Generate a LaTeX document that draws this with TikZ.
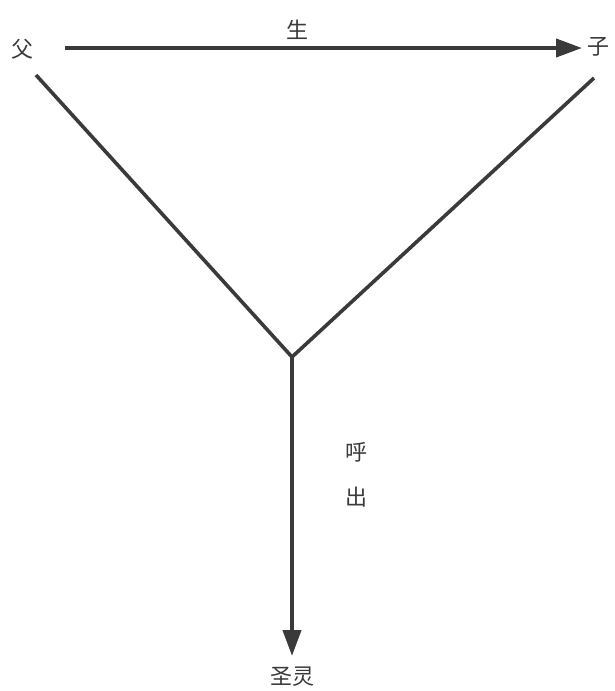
\documentclass[tikz,border=0pt]{standalone}
\usepackage{fontspec}
\setmainfont{Noto Sans CJK SC}
\usetikzlibrary{arrows.meta}
\definecolor{ink}{HTML}{3A3A3A}
\tikzset{
  lbl/.style={font=\fontsize{22}{24}\selectfont, text=ink, inner sep=0pt},
  conn/.style={draw=ink, line width=4pt},
  arr/.style={conn, -{Triangle[length=26pt,width=18pt]}}
}
\begin{document}
\begin{tikzpicture}[x=1pt,y=-1pt]
\useasboundingbox (0,0) rectangle (614,691);
\node[lbl] (fu) at (22,49) {父};
\node[lbl] (zi) at (598,47) {子};
\node[lbl] (sheng) at (297,30) {生};
\node[lbl] (sl) at (292,677) {圣灵};
\node[lbl] (hu) at (356,452) {呼};
\node[lbl] (chu) at (356,497) {出};
\coordinate (j) at (292,357);
\coordinate (a1) at (65,48);
\coordinate (a2) at (582,48);
\coordinate (l1) at (36,75);
\coordinate (r1) at (594,78);
\coordinate (v2) at (292,656);
\draw[arr] (a1) -- (a2);
\draw[conn, line width=3.6pt, line join=miter] (l1) -- (j) -- (r1);
\draw[arr] (j) -- (v2);
\end{tikzpicture}
\end{document}
